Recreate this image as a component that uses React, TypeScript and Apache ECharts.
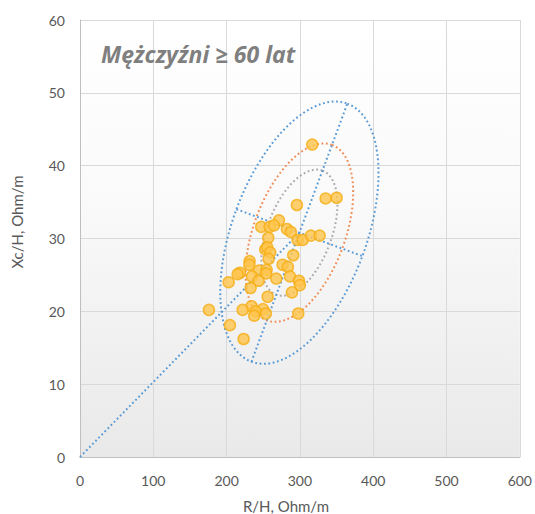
import React, { useEffect, useRef } from "react";
import * as echarts from "echarts";

// Measured points (R/H, Xc/H) in Ohm/m
const rH = [316.8, 335.1, 350.1, 295.9, 271.4, 247.2, 258.7, 264.6, 282.3, 287.7,
  256.8, 296.9, 303.7, 315.0, 326.9, 252.7, 255.4, 259.5, 290.9, 257.3,
  231.4, 231.0, 276.4, 283.6, 244.1, 254.6, 254.0, 218.2, 215.1, 234.6,
  243.7, 267.7, 286.4, 202.8, 298.7, 300.0, 232.8, 289.1, 256.0, 234.1,
  249.6, 239.6, 237.7, 253.6, 221.9, 297.7, 175.9, 204.5, 223.2];
const xcH = [42.9, 35.5, 35.6, 34.6, 32.5, 31.6, 31.6, 31.8, 31.3, 30.9,
  30.1, 29.8, 29.8, 30.4, 30.4, 28.5, 28.8, 28.1, 27.7, 27.2,
  26.9, 26.4, 26.4, 26.1, 25.6, 25.7, 25.2, 25.3, 25.1, 24.8,
  24.2, 24.5, 24.8, 24.0, 24.2, 23.6, 23.2, 22.6, 22.0, 20.7,
  20.3, 20.0, 19.4, 19.7, 20.2, 19.7, 20.2, 18.1, 16.2];

// Reference tolerance ellipses (data units)
const ellipseCenter = [299.3, 30.8];
const majorSemiAxis = [65.4, 17.72]; // 95% ellipse
const minorSemiAxis = [85.9, -3.22]; // 95% ellipse
const toleranceScales = [1, 0.68, 0.481]; // 95%, 75%, 50%
const ellipseNames = ["95%", "75%", "50%"];

const xTicks = [0, 100, 200, 300, 400, 500, 600];
const yTicks = [0, 10, 20, 30, 40, 50, 60];

const title = "Mężczyźni ≥ 60 lat";
const xName = "R/H, Ohm/m";
const yName = "Xc/H, Ohm/m";

const FONT = "Lato, 'Open Sans', sans-serif";
const TITLE_FONT = "'Open Sans', sans-serif";

function ellipsePoints(scale: number): number[][] {
  const pts: number[][] = [];
  for (let i = 0; i <= 120; i++) {
    const t = (i / 120) * Math.PI * 2;
    const c = Math.cos(t) * scale;
    const s = Math.sin(t) * scale;
    pts.push([
      ellipseCenter[0] + c * majorSemiAxis[0] + s * minorSemiAxis[0],
      ellipseCenter[1] + c * majorSemiAxis[1] + s * minorSemiAxis[1],
    ]);
  }
  return pts;
}

export default function App() {
  const ref = useRef<HTMLDivElement>(null);
  useEffect(() => {
    if (!ref.current) return;
    const chart = echarts.init(ref.current, undefined, { renderer: "svg" });
    const colors = ["#5B9BD5", "#F08C55", "#AAAAAA"];
    const dotted = (color: string) => ({ color, width: 2, type: [1.8, 2.6] as number[], cap: "butt" as const });
    const ellipseSeries = toleranceScales.map((s, i) => ({
      type: "line" as const,
      name: ellipseNames[i],
      data: ellipsePoints(s),
      showSymbol: false,
      symbol: "none",
      lineStyle: dotted(colors[i]),
      silent: true,
      z: 2,
    }));
    const c = ellipseCenter;
    const A = majorSemiAxis;
    const B = minorSemiAxis;
    const axisLines = [
      [[0, 0], [c[0], c[1]]],
      [[c[0] - A[0], c[1] - A[1]], [c[0] + A[0], c[1] + A[1]]],
      [[c[0] - B[0], c[1] - B[1]], [c[0] + B[0], c[1] + B[1]]],
    ].map((d) => ({
      type: "line" as const,
      data: d,
      showSymbol: false,
      symbol: "none",
      lineStyle: dotted(colors[0]),
      silent: true,
      z: 2,
    }));
    const pts = rH.map((x, i) => [x, xcH[i]]);
    chart.setOption({
      animation: false,
      grid: {
        left: 80,
        right: 15,
        top: 20,
        bottom: 57,
        show: true,
        borderWidth: 0,
        backgroundColor: new echarts.graphic.LinearGradient(0, 0, 0, 1, [
          { offset: 0, color: "#FFFFFF" },
          { offset: 0.4, color: "#FAFAFA" },
          { offset: 1, color: "#E9E9E9" },
        ]),
      },
      xAxis: {
        type: "value",
        min: xTicks[0],
        max: xTicks[xTicks.length - 1],
        interval: 100,
        axisLine: { show: true, lineStyle: { color: "#BFBFBF", width: 1 } },
        axisTick: { show: false },
        splitLine: { show: true, lineStyle: { color: "#D9D9D9", width: 1 } },
        axisLabel: { color: "#595959", fontSize: 14, fontFamily: FONT, margin: 16 },
      },
      yAxis: {
        type: "value",
        min: yTicks[0],
        max: yTicks[yTicks.length - 1],
        interval: 10,
        axisLine: { show: true, lineStyle: { color: "#BFBFBF", width: 1 } },
        axisTick: { show: false },
        splitLine: { show: true, lineStyle: { color: "#D9D9D9", width: 1 } },
        axisLabel: { color: "#595959", fontSize: 14, fontFamily: FONT, margin: 15 },
      },
      graphic: [
        {
          type: "text",
          left: 101,
          top: 42,
          style: {
            text: title,
            fill: "#7F7F7F",
            font: `italic bold 23px ${TITLE_FONT}`,
          },
          z: 10,
        },
        {
          type: "text",
          x: 286,
          y: 506,
          style: {
            text: xName,
            fill: "#595959",
            font: `15px ${FONT}`,
            align: "center",
            verticalAlign: "middle",
          },
        },
        {
          type: "text",
          x: 17,
          y: 222,
          rotation: Math.PI / 2,
          style: {
            text: yName,
            fill: "#595959",
            font: `15px ${FONT}`,
            align: "center",
            verticalAlign: "middle",
          },
        },
      ],
      series: [
        ...ellipseSeries,
        ...axisLines,
        {
          type: "scatter",
          data: pts,
          symbol: "circle",
          symbolSize: 11,
          itemStyle: { color: "#FFC44C", borderColor: "#F5AE14", borderWidth: 1.5 },
          z: 5,
        },
      ],
    });
    return () => chart.dispose();
  }, []);
  return (
    <div
      ref={ref}
      style={{ position: "absolute", left: 0, top: 0, width: 535, height: 514 }}
    />
  );
}
